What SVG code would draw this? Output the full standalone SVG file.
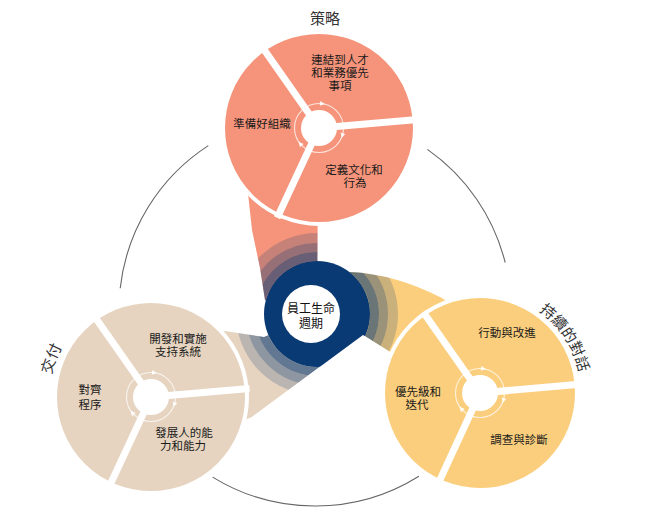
<svg xmlns="http://www.w3.org/2000/svg" width="659" height="509" viewBox="0 0 659 509">
<defs>
<style>
.lbl{font-family:"Noto Sans CJK TC","Noto Sans CJK SC",sans-serif;font-size:11.5px;fill:#1a1a1a;text-anchor:middle}
.ttl{font-family:"Noto Sans CJK TC","Noto Sans CJK SC",sans-serif;font-size:15px;fill:#333}
.ctr{font-size:12px;fill:#111}
.div{stroke:#fff;stroke-width:7}
.edge{stroke:#fff;stroke-width:4}
.ring{fill:none;stroke:#fff;stroke-opacity:.75;stroke-width:1.1}
.arr{fill:#fff;fill-opacity:.9}
.band{fill:none;stroke:#0A3A73}
.conn{fill:none;stroke:#666;stroke-width:1.1}
</style>
<path id="tri" d="M-2.4,-2.4 L2.6,0 L-2.4,2.4 Z"/>
<path id="tailT" d="M246,175 L252,230 L260,268 L265,300 L317,314 L318,175 Z"/>
<path id="tailR" d="M317,314 L350,272 Q395,274 442,298 L462,312 L410,362 L390,352 L363,335 Z"/>
<path id="tailL" d="M317,314 L264,337 L225,331 L200,345 L212,432 L252,417 L340,352 Z"/>
<clipPath id="tails">
<use href="#tailT"/>
<use href="#tailR"/>
<use href="#tailL"/>
</clipPath>
<path id="arcR" d="M509.5,296.4 A101,101 0 0 1 580.2,405.3"/>
<path id="arcL" d="M54.6,430.2 A102,102 0 0 1 101.5,307.8"/>
</defs>
<rect width="659" height="509" fill="#fff"/>

<g id="connectors">
<path class="conn" d="M120.2,288.2 A196,196 0 0 1 208.3,145.6"/>
<path class="conn" d="M427.4,149.4 A196,196 0 0 1 505.2,262.6"/>
<path class="conn" d="M418.9,476.2 A196,196 0 0 1 212.6,477.1"/>
</g>

<g id="hub">
<use href="#tailT" fill="#F5947A"/>
<use href="#tailR" fill="#FBCE7D"/>
<use href="#tailL" fill="#E6D4C0"/>
<g clip-path="url(#tails)">
<circle class="band" cx="317" cy="314" r="57.5" stroke-width="9" stroke-opacity=".6"/>
<circle class="band" cx="317" cy="314" r="66.5" stroke-width="9" stroke-opacity=".4"/>
<circle class="band" cx="317" cy="314" r="76" stroke-width="10" stroke-opacity=".2"/>
</g>
<circle cx="317" cy="314" r="53" fill="#0A3A73"/>
<path d="M240,445 L252,417 L363,335 L390,352 L425,445 Z" fill="#fff"/>
</g>

<g id="strategy">
<g transform="translate(319,128)">
<circle r="96" fill="#F5947A" class="edge"/>
<line class="div" x1="0" y1="0" x2="-56.8" y2="-81.1"/>
<line class="div" x1="0" y1="0" x2="98.6" y2="-8.6"/>
<line class="div" x1="0" y1="0" x2="-41.8" y2="89.7"/>
<circle class="ring" r="24.5"/>
<use href="#tri" class="arr" transform="rotate(-82) translate(24.5,0) rotate(90)"/>
<use href="#tri" class="arr" transform="rotate(18) translate(24.5,0) rotate(90)"/>
<use href="#tri" class="arr" transform="rotate(140) translate(24.5,0) rotate(90)"/>
<circle r="18" fill="#fff"/>
</g>
<text class="ttl" x="325" y="24" text-anchor="middle">策略</text>
<text class="lbl" x="340" y="64">連結到人才</text>
<text class="lbl" x="340" y="77">和業務優先</text>
<text class="lbl" x="340" y="90">事項</text>
<text class="lbl" x="262" y="127.5">準備好組織</text>
<text class="lbl" x="354" y="174">定義文化和</text>
<text class="lbl" x="355" y="187">行為</text>
</g>

<g id="delivery">
<g transform="translate(151,397)">
<circle r="96" fill="#E6D4C0" class="edge"/>
<line class="div" x1="0" y1="0" x2="-56.8" y2="-81.1"/>
<line class="div" x1="0" y1="0" x2="98.6" y2="-8.6"/>
<line class="div" x1="0" y1="0" x2="-41.8" y2="89.7"/>
<circle class="ring" r="24.5"/>
<use href="#tri" class="arr" transform="rotate(-82) translate(24.5,0) rotate(90)"/>
<use href="#tri" class="arr" transform="rotate(18) translate(24.5,0) rotate(90)"/>
<use href="#tri" class="arr" transform="rotate(140) translate(24.5,0) rotate(90)"/>
<circle r="18" fill="#fff"/>
</g>
<text class="ttl"><textPath href="#arcL" startOffset="50%" text-anchor="middle">交付</textPath></text>
<text class="lbl" x="178" y="342.5">開發和實施</text>
<text class="lbl" x="178" y="356">支持系統</text>
<text class="lbl" x="90" y="394">對齊</text>
<text class="lbl" x="90" y="409">程序</text>
<text class="lbl" x="184" y="437">發展人的能</text>
<text class="lbl" x="183" y="449.5">力和能力</text>
</g>

<g id="dialogue">
<g transform="translate(480,393)">
<circle r="97" fill="#FBCE7D" class="edge"/>
<line class="div" x1="0" y1="0" x2="-56.8" y2="-81.1"/>
<line class="div" x1="0" y1="0" x2="99.6" y2="-8.7"/>
<line class="div" x1="0" y1="0" x2="-41.8" y2="90.6"/>
<circle class="ring" r="24.5"/>
<use href="#tri" class="arr" transform="rotate(-82) translate(24.5,0) rotate(90)"/>
<use href="#tri" class="arr" transform="rotate(18) translate(24.5,0) rotate(90)"/>
<use href="#tri" class="arr" transform="rotate(140) translate(24.5,0) rotate(90)"/>
<circle r="18" fill="#fff"/>
</g>
<text class="ttl"><textPath href="#arcR" startOffset="50%" text-anchor="middle">持續的對話</textPath></text>
<text class="lbl" x="507" y="337">行動與改進</text>
<text class="lbl" x="418" y="396">優先級和</text>
<text class="lbl" x="417" y="409">迭代</text>
<text class="lbl" x="519" y="444">調查與診斷</text>
</g>

<g id="lifecycle">
<circle cx="311" cy="314" r="29" fill="#fff"/>
<text class="lbl ctr" x="311" y="312.5">員工生命</text>
<text class="lbl ctr" x="311" y="327.5">週期</text>
</g>
</svg>
